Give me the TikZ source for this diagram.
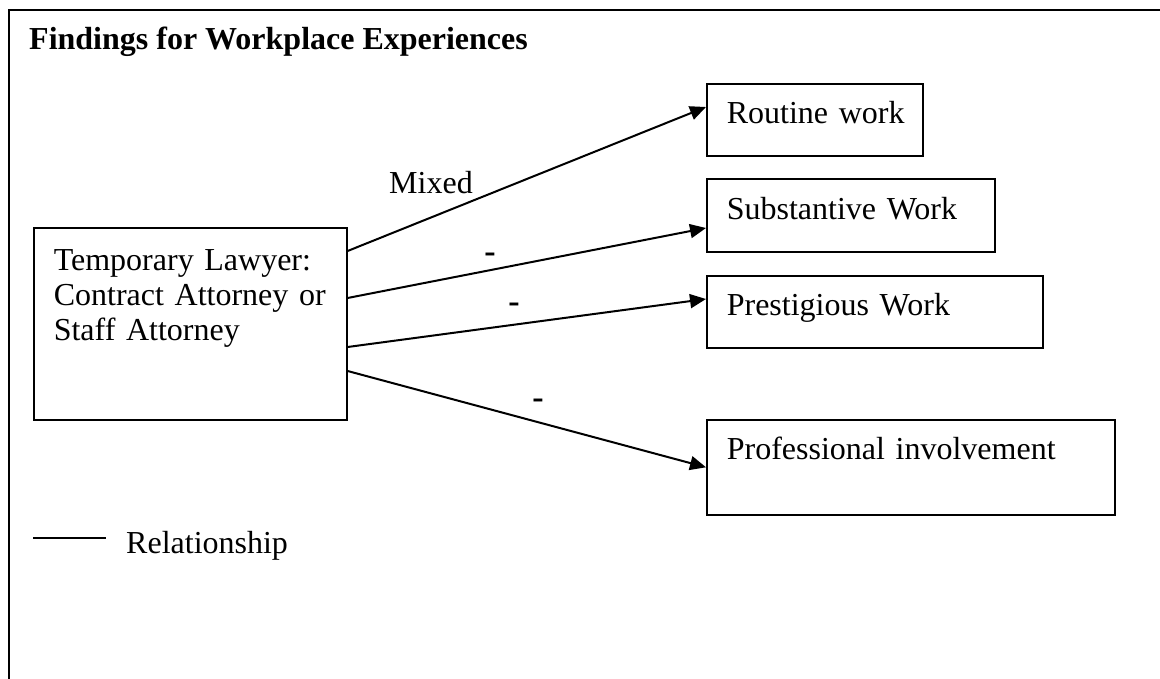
\documentclass[tikz,border=0pt]{standalone}
\usepackage{fontspec}
\setmainfont{Liberation Serif}
\usetikzlibrary{arrows.meta, positioning, calc}

\begin{document}
\begin{tikzpicture}[
  x=1pt, y=-1pt,
  every node/.style={font=\fontsize{32}{35}\selectfont, inner sep=0pt},
  box/.style={draw, line width=1.6pt, anchor=north west, align=left, inner xsep=20pt, inner ysep=0pt},
  rel/.style={line width=2pt, -{Triangle[length=16pt, width=14pt]}},
  sign/.style={font=\fontsize{34}{35}\selectfont\bfseries}
]
\useasboundingbox (0,0) rectangle (1160,679);
\draw[line width=1.8pt] (1160,10) -- (9,10) -- (9,679);

\node[anchor=base west, font=\fontsize{32}{35}\selectfont\bfseries] (title) at (29,50) {Findings for Workplace Experiences};

\node[box, text width=273pt, text height=43pt, text depth=149pt] (lawyer) at (33,227)
  {Temporary Lawyer:\\ Contract Attorney or\\ Staff Attorney};

\node[box, text width=176pt, text height=40pt, text depth=32pt] (routine) at (706,83) {\mbox{Routine work}};
\node[box, text width=248pt, text height=41pt, text depth=32pt] (substantive) at (706,178) {\mbox{Substantive Work}};
\node[box, text width=296pt, text height=40pt, text depth=32pt] (prestigious) at (706,275) {\mbox{Prestigious Work}};
\node[box, text width=368pt, text height=40pt, text depth=55pt] (professional) at (706,419) {\mbox{Professional involvement}};

\draw[rel] ([yshift=-24pt]lawyer.north east) -- ([yshift=-24pt]routine.north west);
\draw[rel] ([yshift=-71pt]lawyer.north east) -- ([yshift=-50pt]substantive.north west);
\draw[rel] ([yshift=-120pt]lawyer.north east) -- ([yshift=-24pt]prestigious.north west);
\draw[rel] ([yshift=-144pt]lawyer.north east) -- (professional.west);

\node (mixed) at (431,183) {Mixed};
\node[sign] (minus1) at (490,258) {-};
\node[sign] (minus2) at (514,308) {-};
\node[sign] (minus3) at (538,404) {-};

\node[anchor=base west] (legend) at (126,553) {Relationship};
\coordinate (legA) at (33,538);
\coordinate (legB) at (106,538);
\draw[line width=1.7pt] (legA) -- (legB);

\end{tikzpicture}
\end{document}
